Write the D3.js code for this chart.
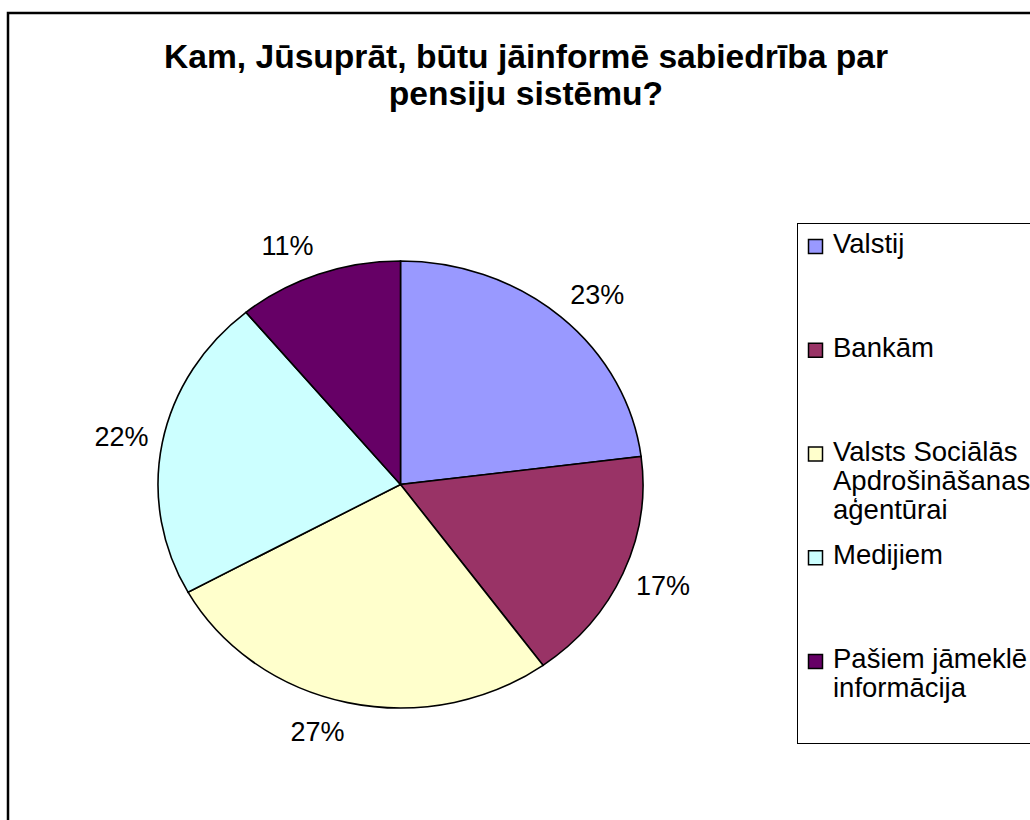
<!DOCTYPE html>
<html>
<head>
<meta charset="utf-8">
<script src="https://cdn.jsdelivr.net/npm/d3@7"></script>
<style>
  body { margin: 0; background: #fff; }
  svg { display: block; font-family: 'Liberation Sans', Arial, sans-serif; }
</style>
</head>
<body>
<div id="chart"></div>
<script>
const categories = [
  'Valstij',
  'Bankām',
  'Valsts Sociālās Apdrošināšanas aģentūrai',
  'Medijiem',
  'Pašiem jāmeklē informācija',
];
const legendLines = [
  ['Valstij'],
  ['Bankām'],
  ['Valsts Sociālās', 'Apdrošināšanas', 'aģentūrai'],
  ['Medijiem'],
  ['Pašiem jāmeklē', 'informācija'],
];
const shares = [23, 17, 27, 22, 11];
const colors = ['#9999ff', '#993366', '#ffffcc', '#ccffff', '#660066'];
const titleLines = ['Kam, Jūsuprāt, būtu jāinformē sabiedrība par', 'pensiju sistēmu?'];

const width = 1030;
const height = 820;

const svg = d3
  .select('#chart')
  .append('svg')
  .attr('width', width)
  .attr('height', height);

// outer chart frame (runs off the right and bottom of the picture)
svg
  .append('rect')
  .attr('x', 8)
  .attr('y', 13)
  .attr('width', 1100)
  .attr('height', 900)
  .attr('fill', '#fff')
  .attr('stroke', '#000')
  .attr('stroke-width', 2.5);

svg
  .append('g')
  .selectAll('text')
  .data(titleLines)
  .enter()
  .append('text')
  .attr('x', 526)
  .attr('y', (d, i) => 68 + i * 37)
  .attr('text-anchor', 'middle')
  .attr('font-size', '33.6px')
  .attr('font-weight', 'bold')
  .text((d) => d);

// pie, drawn as a slightly flattened ellipse
const cx = 400.5;
const cy = 484.5;
const rx = 242.5;
const ry = 223.5;

const pie = d3.pie().sort(null).value((d) => d);
const arcs = pie(shares);
const arc = d3.arc().innerRadius(0).outerRadius(rx);

const pieGroup = svg
  .append('g')
  .attr('transform', `translate(${cx}, ${cy}) scale(1, ${ry / rx})`);

pieGroup
  .selectAll('path')
  .data(arcs)
  .enter()
  .append('path')
  .attr('d', arc)
  .attr('fill', (d, i) => colors[i])
  .attr('stroke', '#000')
  .attr('stroke-width', 1.6)
  .attr('vector-effect', 'non-scaling-stroke');

const gapX = 14;
const gapY = 20;
const labels = svg
  .append('g')
  .selectAll('text')
  .data(arcs)
  .enter()
  .append('text')
  .attr('font-size', '27px')
  .attr('text-anchor', 'middle')
  .text((d) => `${d.data}%`);

labels.each(function (d) {
  const a = (d.startAngle + d.endAngle) / 2;
  const s = Math.sin(a);
  const c = Math.cos(a);
  const w = this.getComputedTextLength();
  const px = cx + (rx + gapX) * s + Math.sign(s) * w / 2;
  const py = cy - (ry + gapY) * c - c * 10;
  d3.select(this).attr('x', px).attr('y', py + 9.5);
});

// legend
const legend = svg.append('g');
legend
  .append('rect')
  .attr('x', 797.5)
  .attr('y', 223.5)
  .attr('width', 400)
  .attr('height', 520)
  .attr('fill', '#fff')
  .attr('stroke', '#000')
  .attr('stroke-width', 1);

const itemY = d3.scaleLinear().domain([0, categories.length - 1]).range([253, 668]);

const items = legend
  .selectAll('g.item')
  .data(categories)
  .enter()
  .append('g')
  .classed('item', true)
  .attr('transform', (d, i) => `translate(0, ${itemY(i)})`);

items
  .append('rect')
  .attr('x', 808.5)
  .attr('y', -13.5)
  .attr('width', 14)
  .attr('height', 14)
  .attr('fill', (d, i) => colors[i])
  .attr('stroke', '#000')
  .attr('stroke-width', 1.5);

items
  .append('text')
  .attr('font-size', '27.5px')
  .selectAll('tspan')
  .data((d, i) => legendLines[i])
  .enter()
  .append('tspan')
  .attr('x', 833)
  .attr('y', (d, j) => j * 29)
  .text((d) => d);
</script>
</body>
</html>
